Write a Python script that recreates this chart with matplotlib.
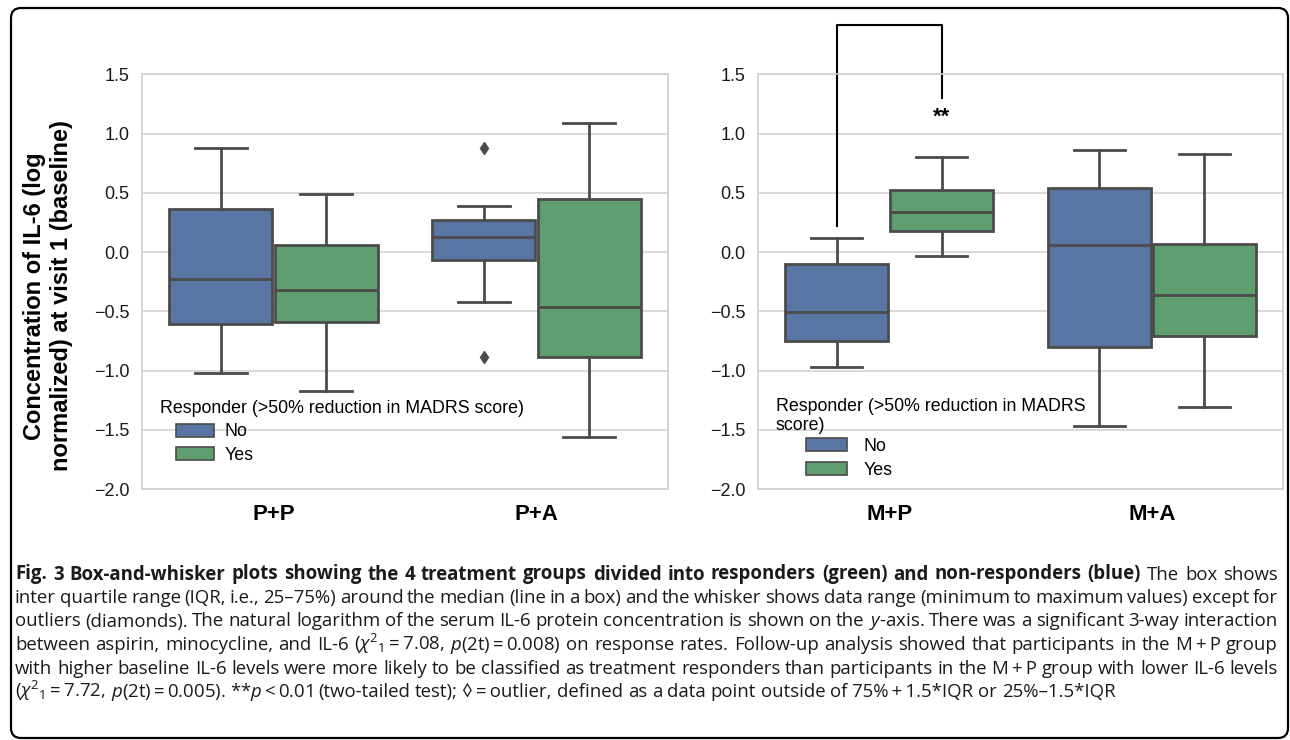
import matplotlib

matplotlib.use("Agg")
import matplotlib.pyplot as plt
from matplotlib.patches import FancyBboxPatch, Patch

plt.rcParams["font.family"] = ["Liberation Sans", "DejaVu Sans"]
plt.rcParams["mathtext.fontset"] = "custom"
plt.rcParams["mathtext.rm"] = "Open Sans"
plt.rcParams["mathtext.it"] = "Open Sans:italic"
plt.rcParams["mathtext.bf"] = "Open Sans:bold"

W, H = 1290, 740

# data (order per panel: grp1 No, grp1 Yes, grp2 No, grp2 Yes)
left_groups = ["P+P", "P+A"]
right_groups = ["M+P", "M+A"]
hues = ["No", "Yes"]

left_whislo = [-1.02, -1.17, -0.42, -1.56]
left_q1 = [-0.61, -0.59, -0.07, -0.89]
left_med = [-0.23, -0.32, 0.13, -0.46]
left_q3 = [0.36, 0.06, 0.27, 0.45]
left_whishi = [0.88, 0.49, 0.39, 1.09]
left_fliers = [[], [], [0.88, -0.89], []]

right_whislo = [-0.97, -0.03, -1.47, -1.31]
right_q1 = [-0.75, 0.18, -0.80, -0.71]
right_med = [-0.51, 0.34, 0.06, -0.36]
right_q3 = [-0.10, 0.52, 0.54, 0.07]
right_whishi = [0.12, 0.80, 0.86, 0.83]
right_fliers = [[], [], [], []]

# significance bracket on M+P (No vs Yes)
sig_left_foot = 0.22
sig_top = 1.92
sig_right_foot = 1.30
sig_text = "**"

legend_title = "Responder (>50% reduction in MADRS score)"
legend_title_wrapped = "Responder (>50% reduction in MADRS\nscore)"
ylabel = "Concentration of IL-6 (log\nnormalized) at visit 1 (baseline)"

ts = "\u2009"  # thin space, not stretched by justification
caption_lines = [
    [("Fig. 3 Box-and-whisker plots showing the 4 treatment groups divided into "
      "responders (green) and non-responders (blue)", "bold"),
     ("The box shows", "normal")],
    [("inter quartile range (IQR, i.e., 25–75%) around the median (line in a box) "
      "and the whisker shows data range (minimum to maximum values) except for", "normal")],
    [("outliers (diamonds). The natural logarithm of the serum IL-6 protein "
      "concentration is shown on the $y$-axis. There was a significant 3-way interaction", "normal")],
    [(f"between aspirin, minocycline, and IL-6 ($\\chi^2{{}}_1${ts}={ts}7.08, $p$(2t){ts}={ts}0.008) "
      f"on response rates. Follow-up analysis showed that participants in the M{ts}+{ts}P group", "normal")],
    [(f"with higher baseline IL-6 levels were more likely to be classified as treatment "
      f"responders than participants in the M{ts}+{ts}P group with lower IL-6 levels", "normal")],
    [(f"($\\chi^2{{}}_1${ts}={ts}7.72, $p$(2t){ts}={ts}0.005). **$p${ts}<{ts}0.01 (two-tailed test); "
      f"◊{ts}={ts}outlier, defined as a data point outside of 75%{ts}+{ts}1.5*IQR or 25%–1.5*IQR", "normal")],
]

blue = "#5875a4"
green = "#5f9e6e"
gray = "#4b4b4b"
grid_c = "#d0d0d0"

fig = plt.figure(figsize=(W / 100, H / 100), dpi=100)
ax1 = fig.add_axes([142 / W, 1 - 489 / H, 526 / W, 414.7 / H])
ax2 = fig.add_axes([758 / W, 1 - 489 / H, 525 / W, 414.7 / H])


def draw_panel(ax, groups, whislo, q1, med, q3, whishi, fliers):
    k = 0
    for i, g in enumerate(groups):
        for j, (h, c) in enumerate(zip(hues, [blue, green])):
            st = dict(med=med[k], q1=q1[k], q3=q3[k], whislo=whislo[k],
                      whishi=whishi[k], fliers=fliers[k])
            ax.bxp([st], positions=[i + (j - 0.5) * 0.4], widths=0.392,
                   patch_artist=True, manage_ticks=False,
                   boxprops=dict(facecolor=c, edgecolor=gray, linewidth=2),
                   medianprops=dict(color=gray, linewidth=2),
                   whiskerprops=dict(color=gray, linewidth=2),
                   capprops=dict(color=gray, linewidth=2),
                   flierprops=dict(marker="d", markerfacecolor=gray,
                                   markeredgecolor=gray, markersize=6))
            k += 1
    ax.set_xlim(-0.5, len(groups) - 0.5)
    ax.set_ylim(-2.0, 1.5)
    ax.set_yticks([-2.0, -1.5, -1.0, -0.5, 0.0, 0.5, 1.0, 1.5])
    ax.set_yticklabels([f"{v:.1f}".replace("-", "\u2212") for v in ax.get_yticks()])
    ax.set_xticks(range(len(groups)))
    ax.set_xticklabels(groups, fontweight="bold", fontsize=16)
    ax.tick_params(axis="y", length=0, pad=9, labelsize=13, labelcolor="#1a1a1a")
    ax.tick_params(axis="x", length=0, pad=10.5, labelcolor="black")
    ax.grid(axis="y", color=grid_c, linewidth=1.1)
    ax.set_axisbelow(True)
    for s in ax.spines.values():
        s.set_color(grid_c)
        s.set_linewidth(1.2)


draw_panel(ax1, left_groups, left_whislo, left_q1, left_med, left_q3, left_whishi, left_fliers)
draw_panel(ax2, right_groups, right_whislo, right_q1, right_med, right_q3, right_whishi, right_fliers)

# legends
handles = [Patch(facecolor=blue, edgecolor=gray, linewidth=1.2, label="No"),
           Patch(facecolor=green, edgecolor=gray, linewidth=1.2, label="Yes")]
ax1.text(0.034, 0.195, legend_title, transform=ax1.transAxes, fontsize=12.8,
         ha="left", va="center")
ax1.legend(handles=handles, loc="upper left", bbox_to_anchor=(0.0646, 0.158),
           frameon=False, fontsize=12.8, handlelength=2.13, handleheight=0.71,
           handletextpad=0.62, labelspacing=0.36, borderpad=0, borderaxespad=0)
ax2.text(0.034, 0.176, legend_title_wrapped, transform=ax2.transAxes, fontsize=12.8,
         ha="left", va="center", linespacing=1.2)
ax2.legend(handles=handles, loc="upper left", bbox_to_anchor=(0.0914, 0.123),
           frameon=False, fontsize=12.8, handlelength=2.3, handleheight=0.73,
           handletextpad=0.95, labelspacing=0.37, borderpad=0, borderaxespad=0)

# significance bracket
ax2.plot([-0.2, -0.2, 0.2, 0.2], [sig_left_foot, sig_top, sig_top, sig_right_foot],
         color="black", linewidth=1.5, clip_on=False)
ax2.text(0.2, 1.225, sig_text, ha="center", va="top", fontsize=16, fontweight="bold")

fig.text(48 / W, 1 - 296 / H, ylabel, rotation=90, ha="center", va="center",
         multialignment="center", fontsize=17, fontweight="bold")

# caption, justified like the journal layout
cap_family = ["Open Sans", "DejaVu Sans"]
cap_fs = 13.4
cap_left, cap_right = 15, 1278
renderer = fig.canvas.get_renderer()
for n, chunks in enumerate(caption_lines):
    words = [(w, wt) for txt, wt in chunks for w in txt.split(" ")]
    yb = 1 - (579.5 + 23.5 * n) / H
    arts = [fig.text(0, yb, w, fontsize=cap_fs, fontweight=wt, family=cap_family,
                     va="baseline", color="#1a1a1a") for w, wt in words]
    widths = [a.get_window_extent(renderer=renderer).width for a in arts]
    if n == len(caption_lines) - 1:
        gap = 0.26 * cap_fs * 100 / 72
    else:
        gap = (cap_right - cap_left - sum(widths)) / (len(words) - 1)
    x = cap_left
    for a, w in zip(arts, widths):
        a.set_x(x / W)
        x += w + gap

border = FancyBboxPatch((0.11, 0.02), 12.77, 7.30,
                        boxstyle="round,pad=0,rounding_size=0.1",
                        transform=fig.dpi_scale_trans, fill=False,
                        edgecolor="black", linewidth=1.6)
fig.add_artist(border)

fig.savefig("out.png", dpi=100)
